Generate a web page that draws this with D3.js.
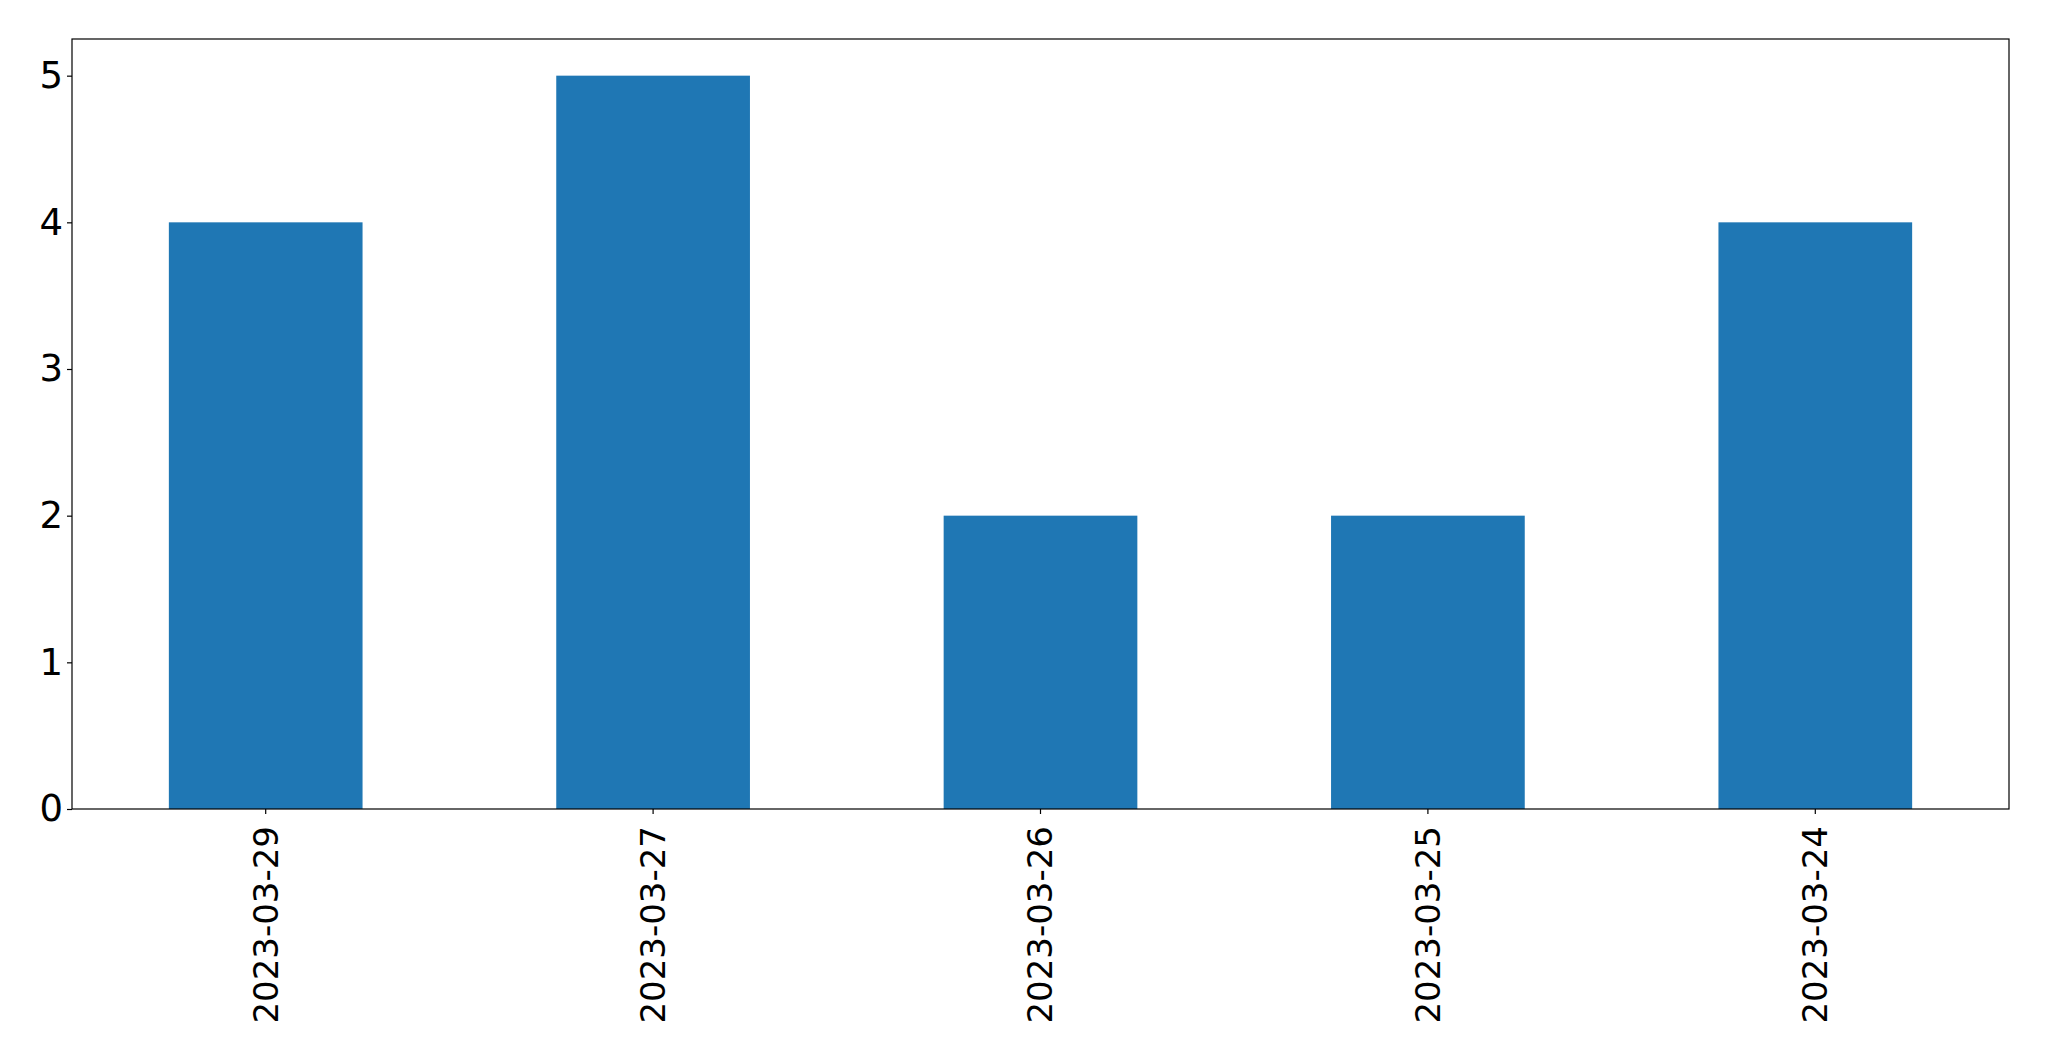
<!DOCTYPE html>
<html>
<head>
<meta charset="utf-8">
<script src="https://cdn.jsdelivr.net/npm/d3@7"></script>
<style>
html,body{margin:0;padding:0;background:#fff;}
svg{display:block;}
</style>
</head>
<body>
<svg id="chart" width="2049" height="1061"></svg>
<script>
const categories = ["2023-03-29", "2023-03-27", "2023-03-26", "2023-03-25", "2023-03-24"];
const values = [4, 5, 2, 2, 4];
const yTicks = [0, 1, 2, 3, 4, 5];

const W = 2049, H = 1061;
const margin = {left: 72, right: 2049 - 2009, top: 39, bottom: 1061 - 809};
const iw = W - margin.left - margin.right;
const ih = H - margin.top - margin.bottom;
const fontFamily = "'DejaVu Sans', sans-serif";
const xFontSize = 34;
const yFontSize = 37;

const svg = d3.select("#chart");
const g = svg.append("g").attr("transform", `translate(${margin.left},${margin.top})`);

const x = d3.scaleBand().domain(categories).range([0, iw]).paddingInner(0.5).paddingOuter(0.25);
const y = d3.scaleLinear().domain([0, 5.25]).range([ih, 0]);

g.selectAll("rect.bar").data(values).enter().append("rect")
  .attr("class", "bar")
  .attr("x", (d, i) => x(categories[i]))
  .attr("width", x.bandwidth())
  .attr("y", d => y(d))
  .attr("height", d => y(0) - y(d))
  .attr("fill", "#1f77b4");

// y axis
const yAxis = g.append("g").call(d3.axisLeft(y).tickValues(yTicks).tickFormat(d3.format("d")).tickSize(5).tickPadding(4));
yAxis.select(".domain").remove();
yAxis.selectAll("line").attr("stroke", "#000").attr("stroke-width", 1.2);
yAxis.selectAll("text").attr("font-family", fontFamily).attr("font-size", yFontSize).attr("fill", "#000");

// x axis
const xAxis = g.append("g").attr("transform", `translate(0,${ih})`)
  .call(d3.axisBottom(x).tickSize(5).tickPadding(0));
xAxis.select(".domain").remove();
xAxis.selectAll("line").attr("stroke", "#000").attr("stroke-width", 1.2);
xAxis.selectAll("text")
  .attr("font-family", fontFamily).attr("font-size", xFontSize).attr("fill", "#000")
  .attr("text-anchor", "end")
  .attr("dy", "0.35em")
  .attr("y", 0)
  .attr("transform", "translate(0,17) rotate(-90)");

// frame
g.append("rect").attr("x", 0).attr("y", 0).attr("width", iw).attr("height", ih)
  .attr("fill", "none").attr("stroke", "#000").attr("stroke-width", 1.2);
</script>
</body>
</html>
